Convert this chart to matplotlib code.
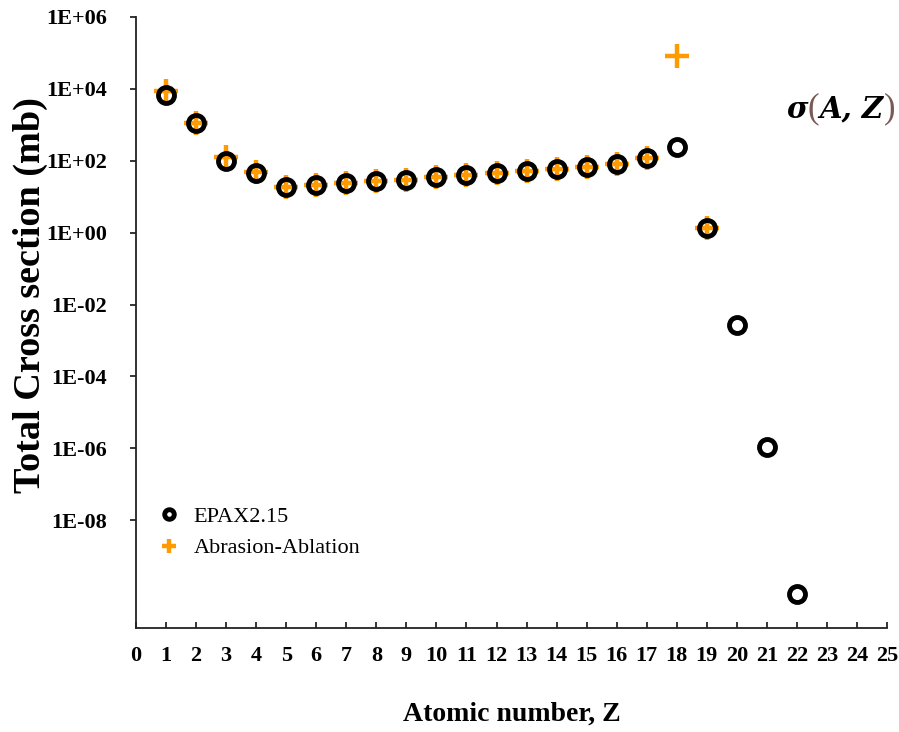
import matplotlib
matplotlib.use('Agg')
import matplotlib.pyplot as plt
from matplotlib.ticker import FixedLocator, FixedFormatter, NullLocator

# 数据
Z_epax = [1, 2, 3, 4, 5, 6, 7, 8, 9, 10, 11, 12, 13, 14, 15, 16, 17, 18, 19, 20, 21, 22]
sigma_epax = [6.8e3, 1.1e3, 96, 47, 18.5, 21.5, 24, 27, 30, 35, 39, 46, 52, 60, 69, 83, 117,
              240, 1.35, 2.66e-3, 1.1e-6, 8.7e-11]
Z_aa = [1, 2, 3, 4, 5, 6, 7, 8, 9, 10, 11, 12, 13, 14, 15, 16, 17, 18, 19]
sigma_aa = [8.9e3, 1.1e3, 125, 50, 18.5, 21.5, 24, 27, 30, 35, 39, 46, 52, 60, 69, 83, 117,
            8.3e4, 1.35]
x_ticks = list(range(0, 26))
y_ticks = [1e-8, 1e-6, 1e-4, 1e-2, 1e0, 1e2, 1e4, 1e6]
y_labels = ['1E-08', '1E-06', '1E-04', '1E-02', '1E+00', '1E+02', '1E+04', '1E+06']

plt.rcParams['font.family'] = ['Liberation Serif', 'DejaVu Serif']

fig = plt.figure(figsize=(8.99, 7.32), dpi=100)
ax = fig.add_axes([0.1513, 0.1421, 0.8354, 0.8347])

orange = '#FF9A00'
ax.plot(Z_aa, sigma_aa, linestyle='none', marker='+', ms=17, mew=3.2,
        color=orange, label='Abrasion-Ablation', zorder=2)
ax.plot(Z_epax, sigma_epax, linestyle='none', marker='o', ms=11.5, mew=3.5,
        mfc='none', mec='black', label='EPAX2.15', zorder=3)

ax.set_yscale('log')
ax.set_xlim(0, 25)
ax.set_ylim(1e-11, 1e6)

ax.xaxis.set_major_locator(FixedLocator(x_ticks))
ax.yaxis.set_major_locator(FixedLocator(y_ticks))
ax.yaxis.set_major_formatter(FixedFormatter(y_labels))
ax.yaxis.set_minor_locator(NullLocator())

for s in ['top', 'right']:
    ax.spines[s].set_visible(False)
for s in ['left', 'bottom']:
    ax.spines[s].set_linewidth(1.3)
    ax.spines[s].set_color('#222222')

ax.tick_params(axis='x', direction='in', length=4, width=1.1, pad=13, labelsize=16)
ax.tick_params(axis='y', direction='out', length=4, width=1.1, pad=17, labelsize=16)
for lab in ax.get_xticklabels() + ax.get_yticklabels():
    lab.set_fontweight('bold')

ax.set_xlabel('Atomic number, Z', fontsize=20, fontweight='bold', labelpad=26)
ax.set_ylabel('Total Cross section (mb)', fontsize=27.5, fontweight='bold',
              va='center', ha='center')
ax.yaxis.set_label_coords(-0.141, 0.545)

h, l = ax.get_legend_handles_labels()
ax.legend(h[::-1], l[::-1], loc='upper left', bbox_to_anchor=(0.003, 0.232),
          frameon=False, fontsize=16, markerscale=0.6, handlelength=1.0,
          handletextpad=0.6, labelspacing=0.5)

# σ(A,Z) 标注
t1 = ax.text(0.866, 0.835, 'σ', transform=ax.transAxes, fontsize=21,
             fontweight='bold', fontstyle='italic', family='DejaVu Serif')
t2 = ax.annotate('(', xy=(1, -0.05), xycoords=t1, fontsize=25, color='#7a5a55', va='bottom')
t3 = ax.annotate('A, Z', xy=(1, 0.05), xycoords=t2, fontsize=21, fontweight='bold',
                 fontstyle='italic', family='DejaVu Serif', va='bottom')
ax.annotate(')', xy=(1, -0.05), xycoords=t3, fontsize=25, color='#7a5a55', va='bottom',
            annotation_clip=False)

fig.savefig('out.png', dpi=100)
